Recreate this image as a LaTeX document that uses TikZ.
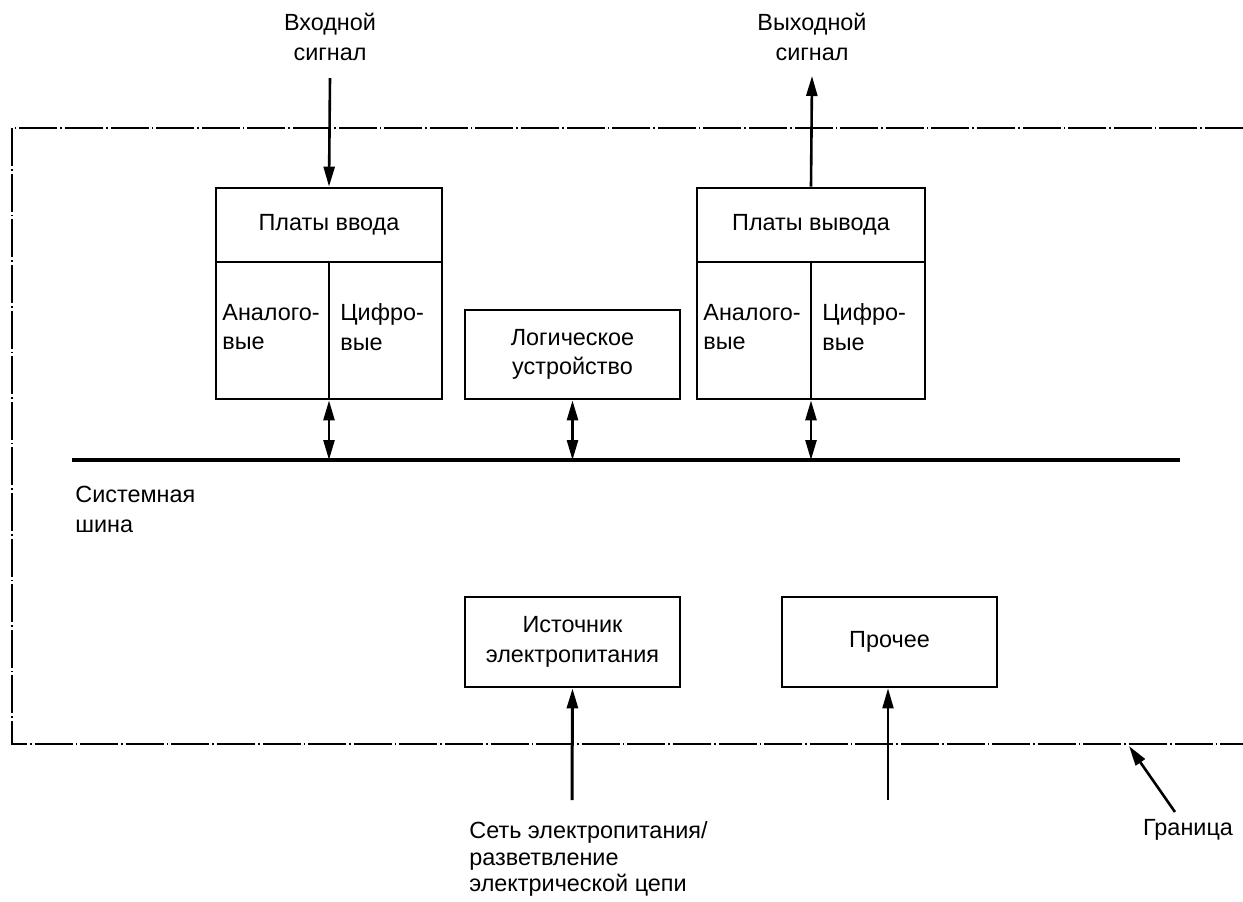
\documentclass[tikz,border=0pt]{standalone}
\usepackage{fontspec}
\setmainfont{Liberation Sans}
\usetikzlibrary{arrows.meta}
\begin{document}
\begin{tikzpicture}[x=0.5pt,y=-0.5pt,
  font=\fontsize{11.7}{14.8}\selectfont,
  blk/.style={draw,line width=1.4pt,inner sep=0pt,align=center},
  half/.style={inner sep=0pt,align=left,anchor=west},
  lbl/.style={inner sep=0pt,align=center},
  lbll/.style={inner sep=0pt,align=left},
  tip/.style={-{Triangle[length=10pt,width=5.5pt]}},
  dtip/.style={{Triangle[length=10pt,width=5.5pt]}-{Triangle[length=10pt,width=5.5pt]}},
  sig/.style={line width=1.3pt},
  bound/.style={line width=0.9pt,dash pattern=on 19pt off 1.5pt on 0.8pt off 1.5pt}
]
\useasboundingbox (0,0) rectangle (1243,901);
% boundary
\coordinate (bTR) at (1243,128);
\coordinate (bTL) at (12,128);
\coordinate (bBL) at (12,744);
\coordinate (bBR) at (1243,744);
\draw[bound] (bTR) -- (bTL) -- (bBL) -- (bBR);

% input boards
\node[blk,minimum width=113pt,minimum height=37pt] (inTop) at (329,225) {Платы ввода};
\node[blk,minimum width=113pt,minimum height=68.5pt] (inBot) at (329,330.5) {};
\draw[line width=1.4pt] (inTop.south) -- (inBot.south);
\node[half] (inA) at (222,327) {Аналого-\\вые};
\node[half] (inD) at (340,327) {Цифро-\\вые};

% output boards
\node[blk,minimum width=114pt,minimum height=37pt] (outTop) at (811,225) {Платы вывода};
\node[blk,minimum width=114pt,minimum height=68.5pt] (outBot) at (811,330.5) {};
\draw[line width=1.4pt] (outTop.south) -- (outBot.south);
\node[half] (outA) at (703,327) {Аналого-\\вые};
\node[half] (outD) at (822,327) {Цифро-\\вые};

% logic
\node[blk,minimum width=107.5pt,minimum height=44.5pt] (logic) at (572.5,354.5) {Логическое\\устройство};

% power & other
\node[blk,minimum width=107.5pt,minimum height=45pt] (power) at (572.5,642) {Источник\\электропитания};
\node[blk,minimum width=107.5pt,minimum height=45pt] (other) at (889.5,642) {Прочее};

% bus
\coordinate (busL) at (72,460);
\coordinate (busR) at (1180,460);
\draw[line width=2pt] (busL) -- (busR);
\node[lbll,anchor=north west] (busLbl) at (75,486) {Системная\\шина};

\draw[sig,dtip] (inBot.south) -- (inBot.south |- busL);
\draw[sig,dtip] (logic.south) -- (logic.south |- busL);
\draw[sig,dtip] (outBot.south) -- (outBot.south |- busL);

% input / output signals
\node[lbl] (inLbl) at (330,37) {Входной\\сигнал};
\coordinate (inSrc) at (330,78);
\draw[sig,tip] (inSrc) -- (inTop.north);
\node[lbl] (outLbl) at (812,37) {Выходной\\сигнал};
\coordinate (outDst) at (812,76);
\draw[sig,tip] (outTop.north) -- (outDst);

% supply
\coordinate (pwrSrc) at (572,800);
\draw[line width=1.5pt,tip] (pwrSrc) -- (power.south);
\node[lbll,anchor=north west,font=\fontsize{11.7}{13.4}\selectfont] (pwrLbl) at (469,821) {Сеть электропитания/\\разветвление\\электрической цепи};
\coordinate (othSrc) at (888,800);
\draw[line width=1pt,tip] (othSrc) -- (other.south -| othSrc);

% boundary label
\node[lbl] (bndLbl) at (1188,830) {Граница};
\coordinate (bndSrc) at (1175,812);
\coordinate (bndDst) at (1129,746);
\draw[sig,tip] (bndSrc) -- (bndDst);
\end{tikzpicture}
\end{document}
